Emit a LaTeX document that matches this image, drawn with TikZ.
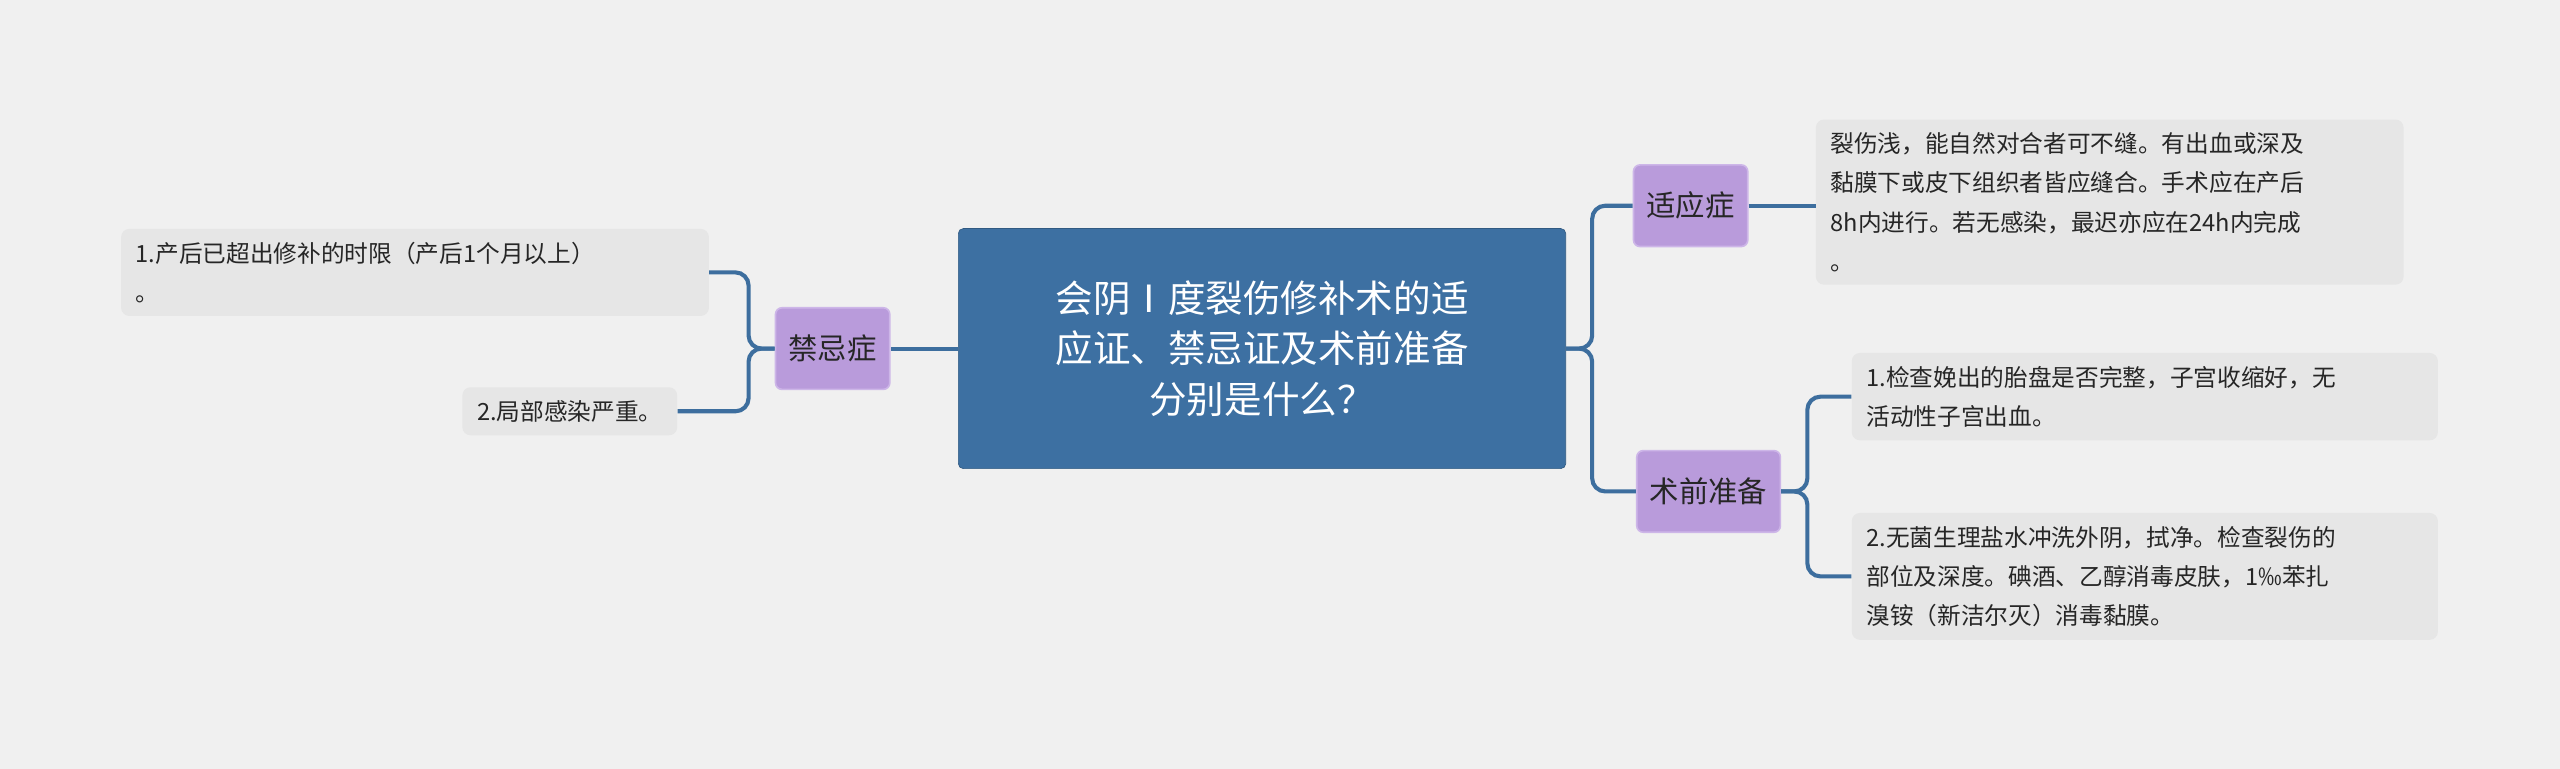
\documentclass[tikz,border=0pt]{standalone}
\usepackage{fontspec}
\setmainfont{Noto Sans CJK SC}
\definecolor{bg}{HTML}{F0F0F0}
\definecolor{cblue}{HTML}{3D70A2}
\definecolor{lnk}{HTML}{3D6E9E}
\definecolor{purp}{HTML}{B99BDB}
\definecolor{purpb}{HTML}{CDB6E8}
\definecolor{leaf}{HTML}{E6E6E6}
\begin{document}
\begin{tikzpicture}[x=1pt,y=-1pt,
  centre/.style={fill=cblue,draw=cblue!80!black,rounded corners=3pt,text=white,font=\fontsize{23}{31}\selectfont,align=center,minimum width=372pt,minimum height=147pt},
  mid/.style={fill=purp,draw=purpb,line width=1pt,rounded corners=4pt,font=\fontsize{18}{22}\selectfont,text=black!85,inner xsep=8pt,minimum height=50pt},
  leafbox/.style={fill=leaf,rounded corners=5pt,font=\fontsize{14.5}{24}\selectfont,text=black!85,align=left,anchor=north west,inner xsep=9pt,inner ysep=8pt},
  con/.style={draw=lnk,line width=2.5pt,rounded corners=8pt}]
\fill[bg] (0,0) rectangle (1568,471);
\useasboundingbox (0,0) rectangle (1568,471);
\node[centre] (c) at (773,213.5) {会阴Ⅰ度裂伤修补术的适\\应证、禁忌证及术前准备\\分别是什么？};
\node[mid] (j) at (510,213.5) {禁忌症};
\node[mid] (s) at (1035.5,126) {适应症};
\node[mid] (p) at (1046.5,301) {术前准备};
\node[leafbox,text width=342pt] (l1) at (74,140) {1.产后已超出修补的时限（产后1个月以上）\\。};
\node[leafbox] (l2) at (283,237) {2.局部感染严重。};
\node[leafbox,text width=342pt] (r1) at (1112,73) {裂伤浅，能自然对合者可不缝。有出血或深及\\黏膜下或皮下组织者皆应缝合。手术应在产后\\8h内进行。若无感染，最迟亦应在24h内完成\\。};
\node[leafbox,text width=341pt] (r2) at (1134,216) {1.检查娩出的胎盘是否完整，子宫收缩好，无\\活动性子宫出血。};
\node[leafbox,text width=341pt] (r3) at (1134,314) {2.无菌生理盐水冲洗外阴，拭净。检查裂伤的\\部位及深度。碘酒、乙醇消毒皮肤，1‰苯扎\\溴铵（新洁尔灭）消毒黏膜。};
\draw[con] (c.west) -- (j.east);
\draw[con] (j.west) -- ++(-16,0) |- (l1.east);
\draw[con] (j.west) -- ++(-16,0) |- (l2.east);
\draw[con] (c.east) -- ++(16,0) |- (s.west);
\draw[con] (c.east) -- ++(16,0) |- (p.west);
\draw[con] (s.east) -- (s.east -| r1.west);
\draw[con] (p.east) -- ++(16,0) |- (r2.west);
\draw[con] (p.east) -- ++(16,0) |- (r3.west);
\end{tikzpicture}
\end{document}
